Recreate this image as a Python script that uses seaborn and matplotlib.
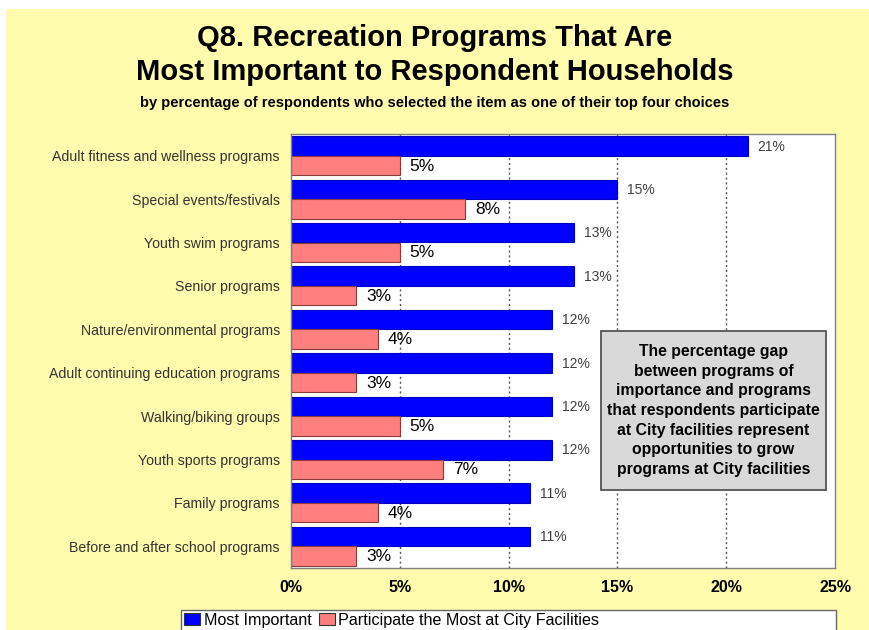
import matplotlib
matplotlib.use("Agg")
import matplotlib.pyplot as plt
from matplotlib.patches import Rectangle, Patch
import seaborn as sns
import pandas as pd

categories = [
    "Adult fitness and wellness programs",
    "Special events/festivals",
    "Youth swim programs",
    "Senior programs",
    "Nature/environmental programs",
    "Adult continuing education programs",
    "Walking/biking groups",
    "Youth sports programs",
    "Family programs",
    "Before and after school programs",
]
most_important = [21, 15, 13, 13, 12, 12, 12, 12, 11, 11]
participate = [5, 8, 5, 3, 4, 3, 5, 7, 4, 3]
series_names = ["Most Important", "Participate the Most at City Facilities"]
x_ticks = [0, 5, 10, 15, 20, 25]

BLUE = "#0000FF"
PINK = "#FF7F7F"
YELLOW = "#FFFCAE"

df = pd.DataFrame({
    "Program": categories * 2,
    "Percent": most_important + participate,
    "Series": [series_names[0]] * len(categories) + [series_names[1]] * len(categories),
})

sns.set_theme(style="white")
plt.rcParams["font.family"] = ["Liberation Sans", "DejaVu Sans"]
plt.rcParams["text.color"] = "black"
plt.rcParams["xtick.color"] = "black"
plt.rcParams["ytick.color"] = "#333333"

fig = plt.figure(figsize=(8.7, 6.3), dpi=100, facecolor="white")
fig.patches.append(Rectangle((6 / 870, 0), 1, 1 - 9 / 630, transform=fig.transFigure,
                             facecolor=YELLOW, edgecolor="none", zorder=-10))

ax = fig.add_axes([291 / 870, 1 - 568 / 630, (835 - 291) / 870, (568 - 134) / 630])
ax.set_facecolor("white")

sns.barplot(data=df, y="Program", x="Percent", hue="Series", orient="h",
            palette=[BLUE, PINK], width=0.9, ax=ax, legend=False, saturation=1)

# edges: blue bars plain, pink bars outlined
for bar_container, edge in zip(ax.containers, ["#0000C0", "#8B3A3A"]):
    for bar in bar_container:
        bar.set_edgecolor(edge)
        bar.set_linewidth(0.8)

# value labels
for bar_container, kw in zip(ax.containers,
                             [dict(fontsize=10, color="#404040"),
                              dict(fontsize=12.5, color="black")]):
    for bar in bar_container:
        w = bar.get_width()
        ax.annotate(f"{w:g}%", (w, bar.get_y() + bar.get_height() / 2),
                    xytext=(7, -0.5), textcoords="offset points",
                    va="center", ha="left", **kw)

ax.set_xlim(0, 25)
ax.set_xticks(x_ticks)
ax.set_xticklabels([f"{t}%" for t in x_ticks], fontsize=11.5, fontweight="bold")
ax.tick_params(axis="x", length=0, pad=9)
ax.tick_params(axis="y", length=0, pad=8, labelsize=10.2, labelcolor="#333333")
ax.set_xlabel("")
ax.set_ylabel("")
for t in x_ticks[1:-1]:
    ax.axvline(t, color="#555555", linestyle=(0, (1.5, 2)), linewidth=1, zorder=0)
for s in ax.spines.values():
    s.set_visible(True)
    s.set_color("#808080")
    s.set_linewidth(1)

# titles
fig.text(0.5, 1 - 38 / 630, "Q8. Recreation Programs That Are", ha="center", va="center",
         fontsize=21, fontweight="bold")
fig.text(0.5, 1 - 72 / 630, "Most Important to Respondent Households", ha="center", va="center",
         fontsize=21, fontweight="bold")
fig.text(0.5, 1 - 103 / 630,
         "by percentage of respondents who selected the item as one of their top four choices",
         ha="center", va="center", fontsize=10.5, fontweight="bold")

# callout box
bx0, by0, bw, bh = 0.570, 0.1797, 0.4136, 0.3664
ax.add_patch(Rectangle((bx0, by0), bw, bh, transform=ax.transAxes, facecolor="#D9D9D9",
                       edgecolor="#555555", linewidth=1.3, zorder=5))
ax.text(bx0 + bw / 2, by0 + bh / 2,
        "The percentage gap\nbetween programs of\nimportance and programs\nthat respondents participate\n"
        "at City facilities represent\nopportunities to grow\nprograms at City facilities",
        transform=ax.transAxes, ha="center", va="center", fontsize=11.3, fontweight="bold",
        linespacing=1.38, zorder=6)

# legend strip at the bottom
fig.patches.append(Rectangle((181 / 870, -0.05), (836 - 181) / 870, 0.05 + (630 - 610) / 630,
                             transform=fig.transFigure, facecolor="white",
                             edgecolor="#666666", linewidth=1))
handles = [Patch(facecolor=BLUE, edgecolor="#333333", linewidth=0.8),
           Patch(facecolor=PINK, edgecolor="#333333", linewidth=0.8)]
fig.legend(handles, series_names, loc="center left",
           bbox_to_anchor=(181 / 870, 1 - 620 / 630), ncol=2, frameon=False,
           fontsize=11.6, handlelength=1.0, handleheight=0.8, handletextpad=0.2,
           columnspacing=0.45, borderaxespad=0, borderpad=0.2)

fig.savefig("out.png", dpi=100, facecolor=fig.get_facecolor())
